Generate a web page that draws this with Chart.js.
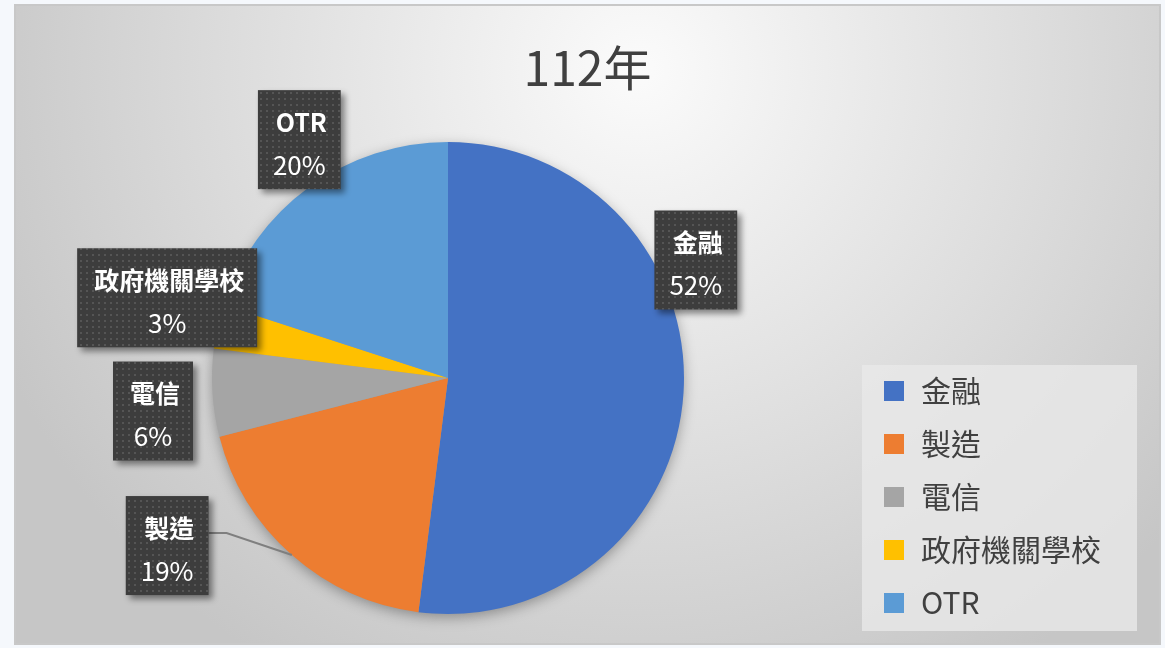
<!DOCTYPE html>
<html lang="zh-Hant">
<head>
<meta charset="utf-8">
<title>112年</title>
<script src="https://cdn.jsdelivr.net/npm/chart.js@4.4.1/dist/chart.umd.min.js"></script>
<style>
    html, body { margin: 0; padding: 0; background: #f5f8fc; }
    #wrap { width: 1165px; height: 648px; position: relative; }
</style>
</head>
<body>
<div id="wrap"><canvas id="chart" width="1165" height="648"></canvas></div>
<script>
const chartTitle = '112年';
const categories = ['金融', '製造', '電信', '政府機關學校', 'OTR'];
const shares = [52, 19, 6, 3, 20];
const sliceColors = ['#4472C4', '#ED7D31', '#A5A5A5', '#FFC000', '#5B9BD5'];

// label box centres, in pie radius units from the centre
const labelSpots = [
    { dx: 1.05, dy: -0.50, leader: false },
    { dx: -1.19, dy: 0.71, leader: true },
    { dx: -1.25, dy: 0.14, leader: false },
    { dx: -1.19, dy: -0.34, leader: false },
    { dx: -0.63, dy: -1.01, leader: false }
];

const FONT = '"Noto Sans CJK TC", "Noto Sans", sans-serif';
const frame = { x: 15, y: 5, w: 1145, h: 639 };

// dark dotted fill used behind the data labels
function makeDots(ctx) {
    const c = document.createElement('canvas');
    c.width = 6; c.height = 6;
    const g = c.getContext('2d');
    g.fillStyle = '#3d3d3d';
    g.fillRect(0, 0, 6, 6);
    g.fillStyle = '#555555';
    g.fillRect(2, 2, 2, 2);
    return ctx.createPattern(c, 'repeat');
}

const backdrop = {
    id: 'backdrop',
    beforeDraw(chart) {
        const ctx = chart.ctx;
        ctx.save();
        const grad = ctx.createRadialGradient(640, 70, 0, 640, 70, 700);
        grad.addColorStop(0, '#fbfbfb');
        grad.addColorStop(0.55, '#dedede');
        grad.addColorStop(1, '#c6c6c6');
        ctx.fillStyle = grad;
        ctx.fillRect(frame.x, frame.y, frame.w, frame.h);
        ctx.strokeStyle = '#c8c8c8';
        ctx.lineWidth = 2;
        ctx.strokeRect(frame.x, frame.y, frame.w, frame.h);

        // title
        ctx.fillStyle = '#404040';
        ctx.font = '48px ' + FONT;
        ctx.textAlign = 'center';
        ctx.textBaseline = 'middle';
        ctx.fillText(chartTitle, frame.x + frame.w / 2, 68);
        ctx.restore();
    },
    beforeDatasetsDraw(chart) {
        // soft shadow under the pie
        const arc = chart.getDatasetMeta(0).data[0];
        if (!arc) return;
        const ctx = chart.ctx;
        ctx.save();
        ctx.shadowColor = 'rgba(0,0,0,0.35)';
        ctx.shadowBlur = 14;
        ctx.shadowOffsetY = 4;
        ctx.fillStyle = '#999';
        ctx.beginPath();
        ctx.arc(arc.x, arc.y, arc.outerRadius - 1, 0, Math.PI * 2);
        ctx.fill();
        ctx.restore();
    }
};

const boxLabels = {
    id: 'boxLabels',
    afterDatasetsDraw(chart) {
        const ctx = chart.ctx;
        const meta = chart.getDatasetMeta(0);
        const values = chart.data.datasets[0].data;
        const total = values.reduce((a, b) => a + b, 0);
        const dots = makeDots(ctx);

        meta.data.forEach((arc, i) => {
            const spot = labelSpots[i];
            const r = arc.outerRadius;
            const cx = arc.x + spot.dx * r;
            const cy = arc.y + spot.dy * r;
            const name = chart.data.labels[i];
            const pct = Math.round(values[i] / total * 100) + '%';

            ctx.save();
            ctx.font = 'bold 25px ' + FONT;
            const w1 = ctx.measureText(name).width;
            ctx.font = '26px ' + FONT;
            const w2 = ctx.measureText(pct).width;
            const bw = Math.max(w1, w2) + 30;
            const bh = 99;
            const bx = cx - bw / 2;
            const by = cy - bh / 2;

            if (spot.leader) {
                const mid = (arc.startAngle + arc.endAngle) / 2;
                ctx.strokeStyle = '#7f7f7f';
                ctx.lineWidth = 2;
                ctx.beginPath();
                ctx.moveTo(bx + bw, by + 37);
                ctx.lineTo(bx + bw + 18, by + 37);
                ctx.lineTo(arc.x + Math.cos(mid) * r, arc.y + Math.sin(mid) * r);
                ctx.stroke();
            }

            ctx.shadowColor = 'rgba(0,0,0,0.45)';
            ctx.shadowBlur = 6;
            ctx.shadowOffsetX = 4;
            ctx.shadowOffsetY = 4;
            ctx.fillStyle = dots;
            ctx.fillRect(bx, by, bw, bh);
            ctx.shadowColor = 'transparent';

            ctx.fillStyle = '#ffffff';
            ctx.textAlign = 'center';
            ctx.textBaseline = 'middle';
            ctx.font = 'bold 25px ' + FONT;
            ctx.fillText(name, cx + 2, by + 32);
            ctx.font = '26px ' + FONT;
            ctx.fillText(pct, cx, by + 75);
            ctx.restore();
        });
    }
};

const sideLegend = {
    id: 'sideLegend',
    afterDraw(chart) {
        const ctx = chart.ctx;
        const colors = chart.data.datasets[0].backgroundColor;
        ctx.save();
        ctx.fillStyle = 'rgba(232,232,232,0.8)';
        ctx.fillRect(862, 365, 275, 266);
        ctx.font = '30px ' + FONT;
        ctx.textBaseline = 'middle';
        ctx.textAlign = 'left';
        chart.data.labels.forEach((label, i) => {
            const y = 391 + i * 53;
            ctx.fillStyle = colors[i];
            ctx.fillRect(884, y - 10, 20, 20);
            ctx.fillStyle = '#404040';
            ctx.fillText(label, 921, y);
        });
        ctx.restore();
    }
};

const ctx = document.getElementById('chart').getContext('2d');
new Chart(ctx, {
    type: 'pie',
    data: {
        labels: categories,
        datasets: [{
            data: shares,
            backgroundColor: sliceColors,
            borderWidth: 0
        }]
    },
    options: {
        responsive: false,
        animation: false,
        layout: {
            padding: { left: 212, top: 142, right: 481, bottom: 34 }
        },
        plugins: {
            legend: { display: false },
            title: { display: false },
            tooltip: { enabled: false }
        }
    },
    plugins: [backdrop, boxLabels, sideLegend]
});
</script>
</body>
</html>
